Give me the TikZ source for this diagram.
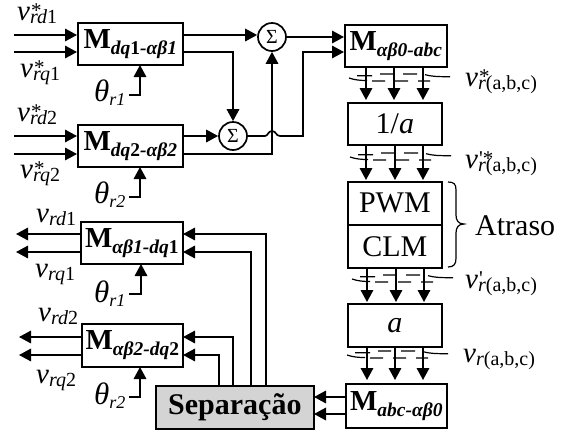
\documentclass[tikz,border=0pt]{standalone}
\usepackage{fontspec}
\setmainfont{Liberation Serif}
\usetikzlibrary{arrows.meta}
\tikzset{
  x=1pt,y=-1pt,
  blk/.style={draw,line width=1.7pt,inner sep=0pt,anchor=north west},
  arr/.style={line width=1.7pt,-{Triangle[length=12pt,width=12.5pt]}},
  sumn/.style={circle,draw,line width=1.7pt,minimum size=28pt,inner sep=0pt,font=\fontsize{20}{20}\selectfont},
  lbl/.style={inner sep=0pt,anchor=base west},
  txt/.style={inner sep=0pt,font=\fontsize{30}{30}\selectfont},
}
\newcommand{\Mb}[1]{{\fontsize{29}{29}\selectfont\bfseries M}{\fontsize{19.5}{19.5}\selectfont\bfseries\itshape\raisebox{-6pt}{#1}}}
\newcommand{\VL}[2]{{\fontsize{29}{29}\selectfont\itshape v}\rlap{\raisebox{-3pt}{\fontsize{20}{20}\selectfont #1}}\raisebox{3pt}{\kern1pt\fontsize{21}{21}\selectfont #2}}
\newcommand{\Th}[1]{{\fontsize{31}{31}\selectfont\itshape θ}{\raisebox{-4pt}{\fontsize{18}{18}\selectfont\itshape #1}}}
\newcommand{\bx}[6]{\node[blk,minimum width=#4pt,minimum height=#5pt,#6] (#1) at (#2,#3) {};}
\newcommand{\phasecut}[2]{%
  \draw[line width=1.2pt,shift={(#1,#2)}] (9,4) .. controls (15,6) and (20,6.5) .. (27,6.5) (17,1.7)--(32,1.7) (32,7)--(45,7) (40,0)--(53,0) (55,7)--(68,7) (63,0)--(77,0) (78,7)--(90,7) (85,0.7) .. controls (92,2.5) and (97,2.7) .. (110,2.7);}
\begin{document}
\begin{tikzpicture}
\useasboundingbox (0,0) rectangle (567,429);
% blocks
\bx{m1}{77}{22}{105}{42}{}
\bx{m2}{77}{124}{105}{42}{}
\bx{m3}{344}{24}{102}{42}{}
\bx{ia}{347}{102}{94}{42}{}
\bx{pwm}{347}{181}{94}{43}{}
\bx{clm}{347}{224}{94}{43}{}
\bx{a}{347}{303}{94}{43}{}
\bx{m4}{345}{383}{101}{44}{}
\bx{m5}{80}{221}{102}{42}{}
\bx{m6}{81}{323}{101}{43}{}
\node[blk,fill=black!17,minimum width=158pt,minimum height=43pt] (sep) at (155,385) {};
\node[sumn] (s1) at (272,37) {Σ};
\node[sumn] (s2) at (233,136) {Σ};
% block labels
\node[inner sep=0pt] at (m1.center) {\Mb{dq\textup{1}-αβ1}};
\node[inner sep=0pt] at (m2.center) {\Mb{dq\textup{2}-αβ2}};
\node[inner sep=0pt] at (m3.center) {\Mb{αβ0-abc}};
\node[inner sep=0pt] at (m4.center) {\Mb{abc-αβ0}};
\node[inner sep=0pt] at (m5.center) {\Mb{αβ1-dq\textup{1}}};
\node[inner sep=0pt] at (m6.center) {\Mb{αβ2-dq\textup{2}}};
\node[txt] at (ia.center) {1/\textit{a}};
\node[txt] at (pwm.center) {PWM};
\node[txt] at (clm.center) {CLM};
\node[txt,font=\fontsize{30}{30}\selectfont\itshape] at (a.center) {a};
\node[txt,font=\fontsize{30}{30}\selectfont\bfseries] at (sep.center) {Separação};
% inputs
\foreach \yy/\nn in {35/i1,52/i2,136/i3,154/i4}{\coordinate (\nn) at (14,\yy);}
\draw[arr] (i1) -- (i1-|m1.west);
\draw[arr] (i2) -- (i2-|m1.west);
\draw[arr] (i3) -- (i3-|m2.west);
\draw[arr] (i4) -- (i4-|m2.west);
% theta
\draw[arr] (129,95) -- (140,95) -- (140,65);
\draw[arr] (129,197) -- (140,197) -- (140,167);
\draw[arr] (129,294) -- (141,294) -- (141,264);
\draw[arr] (129,397) -- (140,397) -- (140,367);
% middle
\coordinate (c1) at (m1.east|-i1);
\draw[arr] (c1) -- (s1.west|-c1);
\coordinate (c2) at (m1.east|-i2);
\draw[arr] (c2) -- (s2|-c2) -- (s2.north);
\coordinate (c3) at (m2.east|-i3);
\draw[arr] (c3) -- (s2.west);
\coordinate (c4) at (m2.east|-i4);
\draw[arr] (c4) -- (s1|-c4) -- (s1.south);
\draw[arr] (s1.east) -- (m3.west|-s1.east);
\draw[arr] (s2.east) -- (265,136) .. controls (268,136) and (268,131) .. (272,131) .. controls (276,131) and (276,136) .. (280,136) -- (303,136) -- (303,52) -- (344,52);
% phase arrows
\foreach \xa/\ya/\yb in {366/66/100,394/66/100,423/66/100,366/144/180,395/144/180,423/144/180,367/267/302,396/267/302,424/267/302,367/346/380,395/346/380,423/346/380}{
  \draw[arr] (\xa,\ya) -- (\xa,\yb);
}
\phasecut{340}{74}
\phasecut{341}{153}
\phasecut{343}{275}
\phasecut{338}{351}
% feedback
\draw[arr] (345,397) -- (314,397);
\draw[arr] (345,414) -- (314,414);
\draw[arr] (266,385) -- (266,234) -- (183,234);
\draw[arr] (251,385) -- (251,252) -- (183,252);
\draw[arr] (233,385) -- (233,337) -- (183,337);
\draw[arr] (219,385) -- (219,355) -- (183,355);
% outputs
\draw[arr] (80,234) -- (16,234);
\draw[arr] (80,252) -- (16,252);
\draw[arr] (81,337) -- (19,337);
\draw[arr] (81,355) -- (19,355);
% brace
\draw[line width=1.2pt] (448,182) .. controls (454,182) and (456,184) .. (456,190) -- (456,215) .. controls (456,220) and (458,224) .. (464,224) .. controls (458,224) and (456,228) .. (456,233) -- (456,258) .. controls (456,264) and (454,267) .. (448,267);
\node[lbl,font=\fontsize{30}{30}\selectfont] at (475,235) {Atraso};
% signal labels
\node[lbl] at (17,20) {\VL{\textit{rd}1}{*}};
\node[lbl] at (20,77) {\VL{\textit{rq}1}{*}};
\node[lbl] at (17,121) {\VL{\textit{rd}2}{*}};
\node[lbl] at (20,178) {\VL{\textit{rq}2}{*}};
\node[lbl] at (36,222) {\VL{\textit{rd}1}{}};
\node[lbl] at (35,277) {\VL{\textit{rq}1}{}};
\node[lbl] at (38,321) {\VL{\textit{rd}2}{}};
\node[lbl] at (36,383) {\VL{\textit{rq}2}{}};
\node[lbl] at (94,101) {\Th{r1}};
\node[lbl] at (94,203) {\Th{r2}};
\node[lbl] at (94,302) {\Th{r1}};
\node[lbl] at (94,404) {\Th{r2}};
\node[lbl] at (465,86) {\VL{\textit{r}(a,b,c)}{*}};
\node[lbl] at (465,168) {\VL{\textit{r}(a,b,c)}{\textquotesingle*}};
\node[lbl] at (465,288) {\VL{\textit{r}(a,b,c)}{\textquotesingle}};
\node[lbl] at (463,362) {\VL{\textit{r}(a,b,c)}{}};
\end{tikzpicture}
\end{document}
